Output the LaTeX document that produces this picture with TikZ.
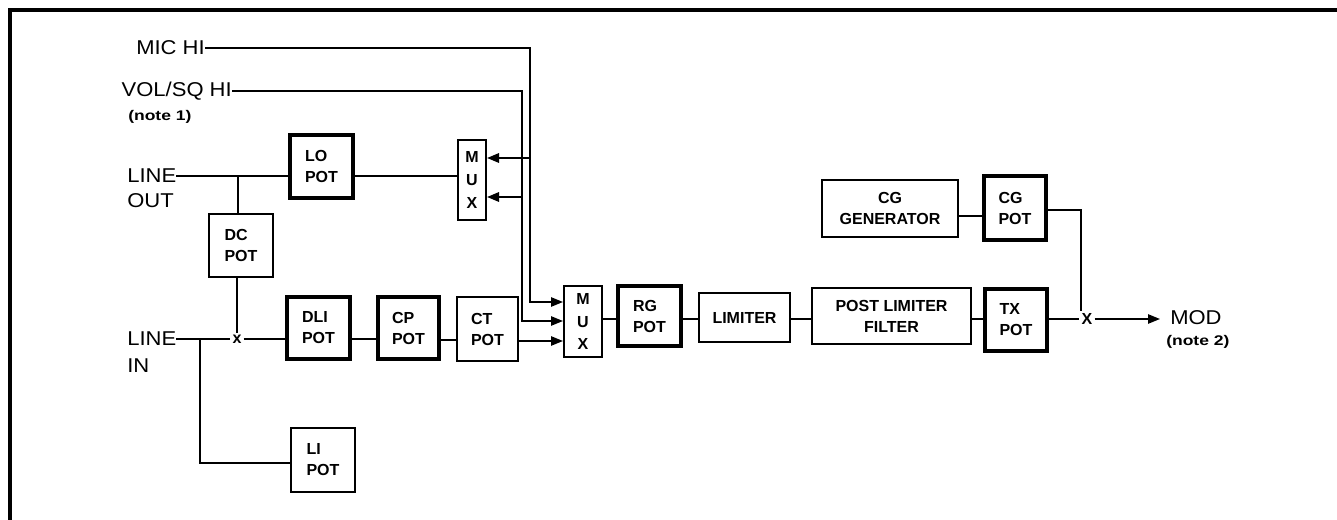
\documentclass[tikz,border=0pt]{standalone}
\usepackage{fontspec}
\setmainfont{Liberation Sans}
\newfontfamily\lblfont[FakeStretch=1.1]{Liberation Sans}
\newfontfamily\notefont[FakeStretch=1.25]{Liberation Sans}
\usetikzlibrary{arrows.meta}
\newcommand\boxfnt{\bfseries\fontsize{12}{15.75}\selectfont}
\newcommand\muxfnt{\bfseries\fontsize{12}{17}\selectfont}
\newcommand\lblfnt{\lblfont\fontsize{15}{19}\selectfont}
\newcommand\notefnt{\notefont\bfseries\fontsize{10.5}{12}\selectfont}
\tikzset{
  px/.style 2 args={minimum width=#1*0.75pt, minimum height=#2*0.75pt},
  potbox/.style={draw, line width=2.4pt, inner sep=0pt, align=left, font=\boxfnt},
  blkbox/.style={draw, line width=1.5pt, inner sep=0pt, align=center, font=\boxfnt},
  thinbox/.style={blkbox, line width=1.1pt},
  muxbox/.style={blkbox, line width=1.5pt, font=\muxfnt},
  lbl/.style={font=\lblfnt, inner sep=0pt},
  note/.style={font=\notefnt, inner sep=0pt},
  xmark/.style={font=\boxfnt, inner sep=1.5pt},
  wire/.style={line width=1.2pt},
  heavywire/.style={line width=1.6pt},
  fine/.style={line width=0.8pt},
  arr/.style={-{Triangle[length=9pt,width=7pt]}},
}
\begin{document}
\begin{tikzpicture}[x=0.75pt,y=-0.75pt]
\useasboundingbox (0,0) rectangle (1337,520);
% frame
\draw[line width=2.3pt] (10,520) -- (10,10) -- (1337,10);

% labels
\node[lbl, anchor=east] (mic) at (205,48) {MIC HI};
\node[lbl, anchor=east] (vol) at (232,91) {VOL/SQ HI};
\node[note, anchor=west] (n1) at (128,117) {(note 1)};
\node[lbl, anchor=west] (loL) at (127,176) {LINE};
\node[lbl, anchor=west] (loL2) at (127,201) {OUT};
\node[lbl, anchor=west] (liL) at (127,339) {LINE};
\node[lbl, anchor=west] (liL2) at (127,366) {IN};

% boxes
\node[potbox, px={63}{63}] (lo) at (321.5,166.5) {LO\\POT};
\node[muxbox, px={28}{80}] (mux1) at (472,180) {M\\U\\X};
\node[blkbox, px={64}{63}, align=left] (dc) at (241,245.5) {DC\\POT};
\node[xmark] (xl) at (237,339) {x};
\node[potbox, px={63}{62}] (dli) at (318.5,328) {DLI\\POT};
\node[potbox, px={61}{62}] (cp) at (408.5,328) {CP\\POT};
\node[blkbox, px={61}{64}, align=left] (ct) at (487.5,329) {CT\\POT};
\node[blkbox, px={64}{64}, align=left, line width=1.9pt] (li) at (323,460) {LI\\POT};
\node[muxbox, px={38}{71}] (mux2) at (583,321.5) {M\\U\\X};
\node[potbox, px={63}{60}] (rg) at (649.5,316) {RG\\POT};
\node[blkbox, px={91}{49}, line width=1.8pt] (lim) at (744.5,317.5) {LIMITER};
\node[thinbox, px={159}{56}] (plf) at (891.5,316) {POST LIMITER\\FILTER};
\node[potbox, px={62}{62}] (tx) at (1016,320) {TX\\POT};
\node[xmark] (xr) at (1087,319) {X};
\node[lbl, anchor=west] (mod) at (1170,318) {MOD};
\node[note, anchor=west] (n2) at (1166,342) {(note 2)};
\node[thinbox, px={136}{57}] (cgg) at (890,208.5) {CG\\GENERATOR};
\node[potbox, px={62}{64}] (cgp) at (1015,208) {CG\\POT};

% coordinates
\coordinate (micbend) at (530,48);
\coordinate (volbend) at (522,91);
\coordinate (m1a) at (530,158);
\coordinate (m1b) at (522,197);
\coordinate (m2a) at (530,302);
\coordinate (m2b) at (522,321);
\coordinate (m2c) at (540,341);
\coordinate (lojn) at (238,176);
\coordinate (lijn) at (200,339);
\coordinate (libend) at (200,463);
\coordinate (rowmain) at (700,319);
\coordinate (rowct) at (450,340);
\coordinate (cgjoin) at (970,216);
\coordinate (cgbend) at (1081,210);
\coordinate (modtip) at (1160,319);

% wires
\draw[wire, arr] (mic.east) -- (micbend) -- (m2a) -- (mux2.west |- m2a);
\draw[wire, arr] (vol.east) -- (volbend) -- (m2b) -- (mux2.west |- m2b);
\draw[heavywire, arr] (m1a) -- (mux1.east |- m1a);
\draw[heavywire, arr] (m1b) -- (mux1.east |- m1b);

\draw[heavywire] (loL.east) -- (lo.west |- loL.east);
\draw[heavywire] (lo.east |- loL.east) -- (mux1.west |- loL.east);
\draw[heavywire] (lojn) -- (dc.north -| lojn);
\draw[heavywire] (dc.south -| xl) -- (xl.north);

\draw[heavywire] (liL.east) -- (xl.west |- liL.east);
\draw[heavywire] (lijn) -- (libend) -- (li.west |- libend);
\draw[heavywire] (xl.east |- liL.east) -- (dli.west |- liL.east);
\draw[heavywire] (dli.east |- liL.east) -- (cp.west |- liL.east);
\draw[wire] (cp.east |- rowct) -- (ct.west |- rowct);
\draw[wire, arr] (ct.east |- m2c) -- (mux2.west |- m2c);

\draw[wire] (mux2.east |- rowmain) -- (rg.west |- rowmain);
\draw[wire] (rg.east |- rowmain) -- (lim.west |- rowmain);
\draw[wire] (lim.east |- rowmain) -- (plf.west |- rowmain);
\draw[wire] (plf.east |- rowmain) -- (tx.west |- rowmain);
\draw[heavywire] (tx.east |- xr) -- (xr.west);
\draw[wire, arr] (xr.east) -- (modtip);

\draw[heavywire] (cgg.east |- cgjoin) -- (cgp.west |- cgjoin);
\draw[fine] (cgp.east |- cgbend) -- (cgbend) -- (xr.north -| cgbend);
\end{tikzpicture}
\end{document}
